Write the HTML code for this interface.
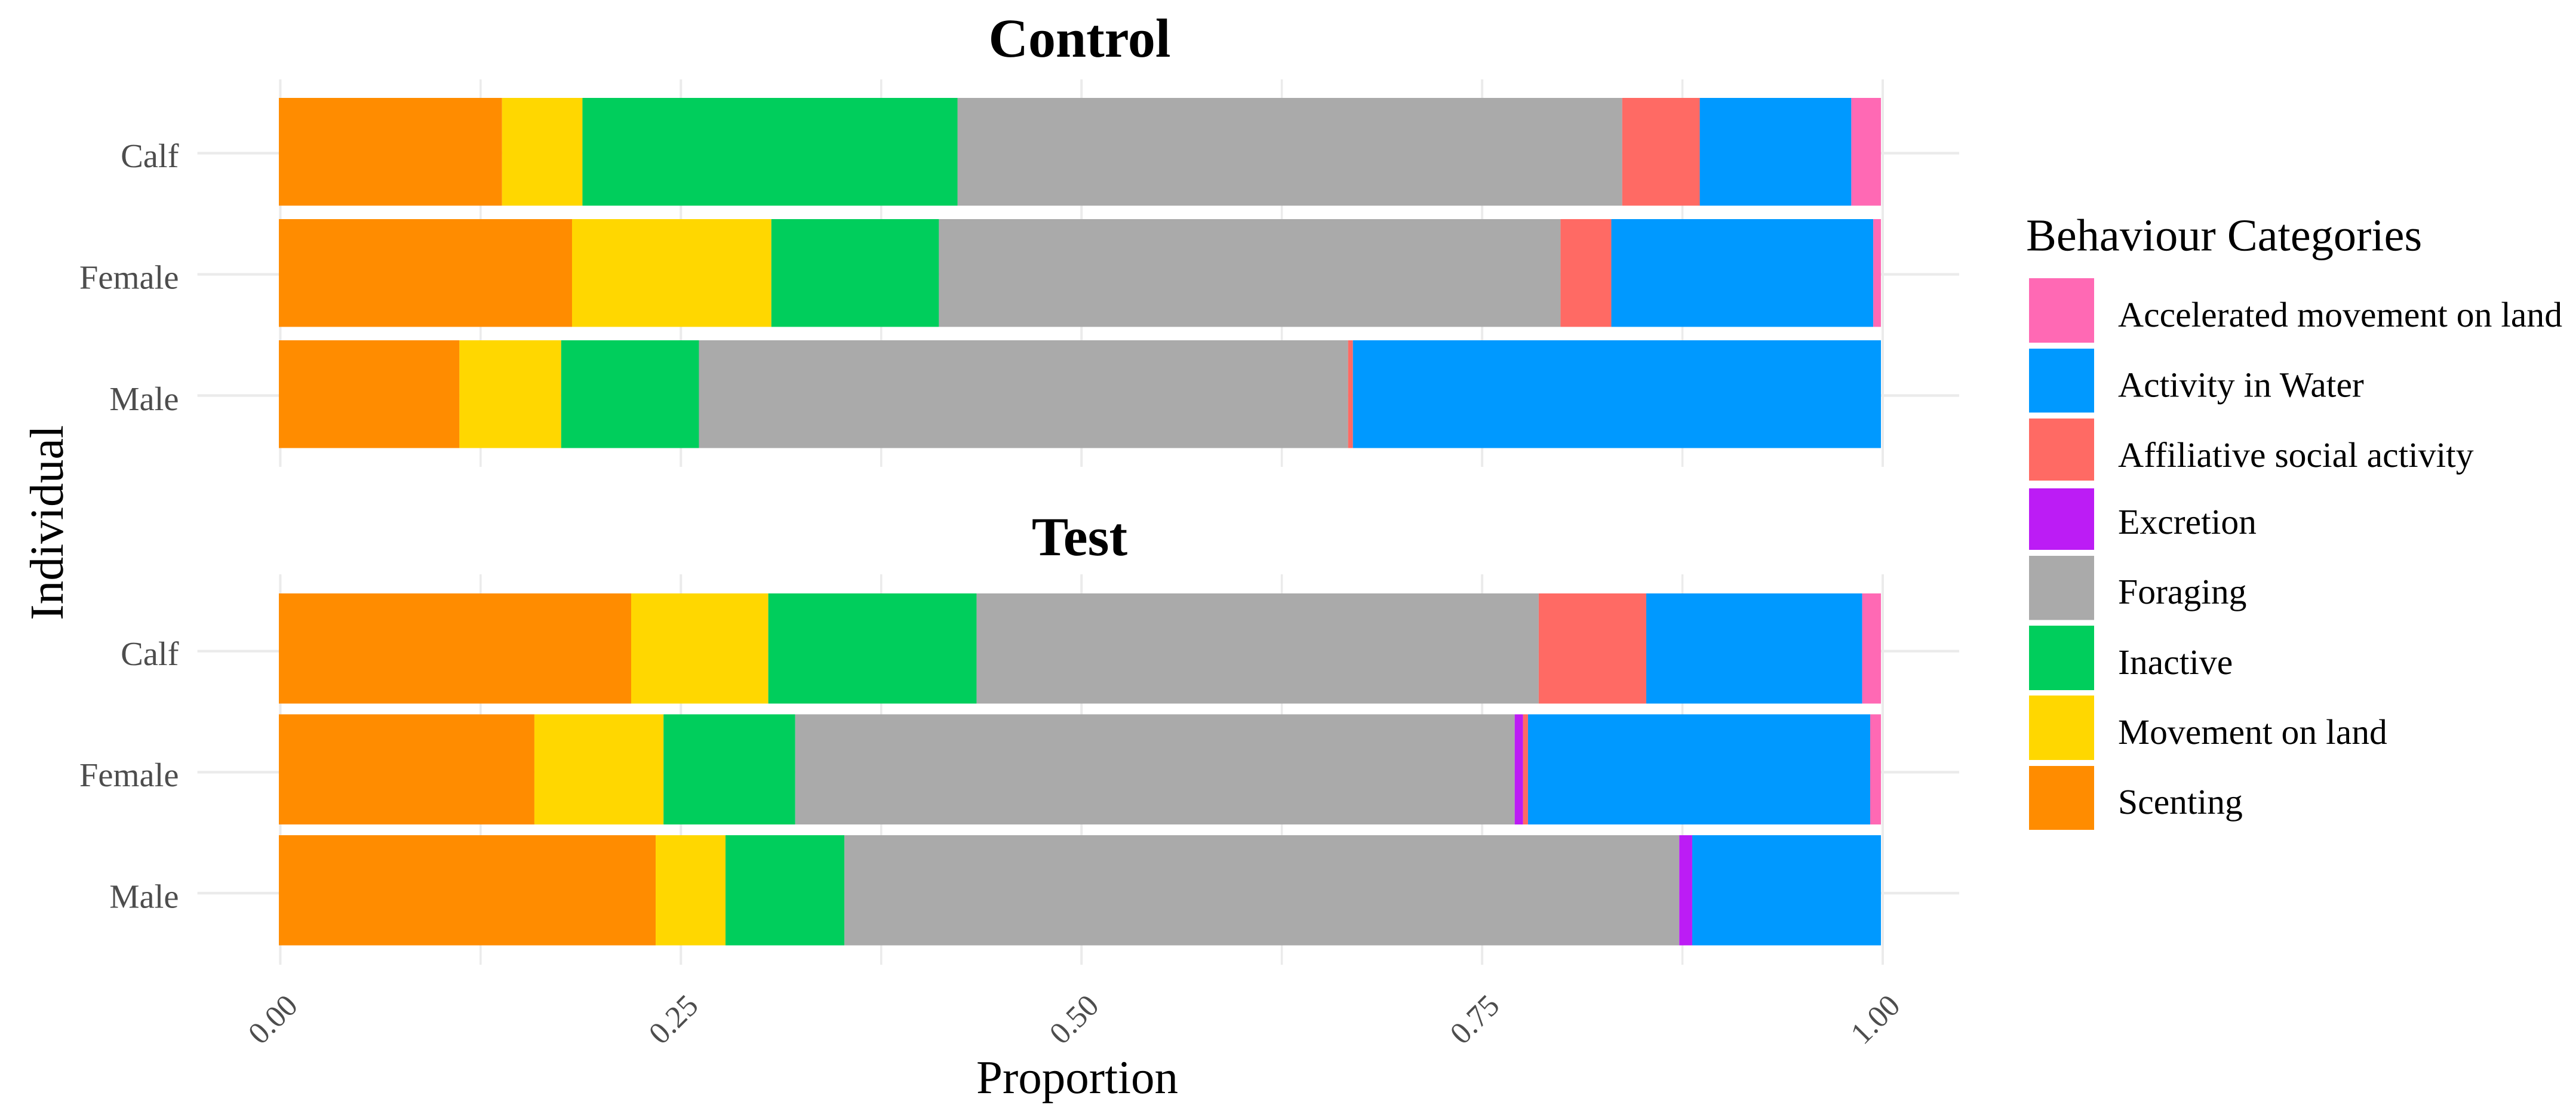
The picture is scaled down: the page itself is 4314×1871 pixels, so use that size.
<!DOCTYPE html>
<html lang="en">
<head>
<meta charset="utf-8">
<title>Behaviour proportions by individual</title>
<style>
html,body{margin:0;padding:0;background:#fff;width:4314px;height:1871px;overflow:hidden}
svg{display:block}
text{font-family:"Liberation Serif",serif;text-rendering:geometricPrecision}
</style>
</head>
<body>
<svg id="chart" xmlns="http://www.w3.org/2000/svg" width="4314" height="1871" viewBox="0 0 4314 1871">
<rect x="0" y="0" width="4314" height="1871" fill="#ffffff"/>
<text transform="translate(105,875.5) rotate(-90)" text-anchor="middle" font-size="79.5" fill="#000">Individual</text>
<text x="1804" y="1831" text-anchor="middle" font-size="79" fill="#000">Proportion</text>
<text x="3393" y="419.5" font-size="76.3" fill="#000">Behaviour Categories</text>
</svg>
<script>
const categories = ['Calf', 'Female', 'Male'];
const xTickLabels = ['0.00', '0.25', '0.50', '0.75', '1.00'];
const xTickValues = [0, 0.25, 0.5, 0.75, 1];
const xMinorValues = [0.125, 0.375, 0.625, 0.875];
const seriesNames = ['Scenting', 'Movement on land', 'Inactive', 'Foraging', 'Excretion', 'Affiliative social activity', 'Activity in Water', 'Accelerated movement on land'];
const seriesColors = ['#FF8C00', '#FFD700', '#00CE5C', '#AAAAAA', '#BC1CF5', '#FF6A64', '#0099FF', '#FF69B4'];
const legendOrder = ['Accelerated movement on land', 'Activity in Water', 'Affiliative social activity', 'Excretion', 'Foraging', 'Inactive', 'Movement on land', 'Scenting'];

const controlScenting = [0.1393, 0.1830, 0.1127];
const controlMovement = [0.0502, 0.1244, 0.0635];
const controlInactive = [0.2341, 0.1046, 0.0860];
const controlForaging = [0.4149, 0.3880, 0.4052];
const controlExcretion = [0, 0, 0];
const controlAffiliative = [0.0484, 0.0317, 0.0030];
const controlWater = [0.0946, 0.1635, 0.3296];
const controlAccelerated = [0.0185, 0.0048, 0];

const testScenting = [0.2199, 0.1595, 0.2352];
const testMovement = [0.0856, 0.0806, 0.0436];
const testInactive = [0.1300, 0.0822, 0.0742];
const testForaging = [0.3509, 0.4491, 0.5211];
const testExcretion = [0, 0.0052, 0.0081];
const testAffiliative = [0.0671, 0.0031, 0];
const testWater = [0.1348, 0.2136, 0.1178];
const testAccelerated = [0.0117, 0.0067, 0];

const NS = 'http://www.w3.org/2000/svg';
const svg = document.getElementById('chart');
const GRID = '#EBEBEB';

function xBar(v) { return 467 + v * 2683; }
function xGrid(v) { return 469.4 + v * 2683.6; }
function make(tag, attrs, parent) {
  const el = document.createElementNS(NS, tag);
  for (const k in attrs) el.setAttribute(k, attrs[k]);
  parent.appendChild(el);
  return el;
}

const panels = [
  { name: 'control', title: 'Control', titleY: 95, gridTop: 133, gridBottom: 782, barTop: 164, barStep: 203, barH: 180.5, lineY0: 256.6, lineStep: 203, labelY0: 280, labelStep: 203.5,
    series: [controlScenting, controlMovement, controlInactive, controlForaging, controlExcretion, controlAffiliative, controlWater, controlAccelerated] },
  { name: 'test', title: 'Test', titleY: 930, gridTop: 962, gridBottom: 1616, barTop: 994, barStep: 202.5, barH: 184.5, lineY0: 1090.7, lineStep: 202.7, labelY0: 1114, labelStep: 203.2,
    series: [testScenting, testMovement, testInactive, testForaging, testExcretion, testAffiliative, testWater, testAccelerated] }
];

panels.forEach(function (p) {
  const g = make('g', {}, svg);
  
  

  const title = make('text', { x: 1808, y: p.titleY, 'text-anchor': 'middle', 'font-size': 92, 'font-weight': 'bold', fill: '#000' }, g);
  
  
  title.textContent = p.title;

  xMinorValues.forEach(function (v) {
    const l = make('line', { x1: xGrid(v), x2: xGrid(v), y1: p.gridTop, y2: p.gridBottom, stroke: GRID, 'stroke-width': 3.5 }, g);
    
    
  });
  xTickValues.forEach(function (v) {
    const l = make('line', { x1: xGrid(v), x2: xGrid(v), y1: p.gridTop, y2: p.gridBottom, stroke: GRID, 'stroke-width': 4 }, g);
    
    
  });

  categories.forEach(function (c, i) {
    const y = p.lineY0 + i * p.lineStep;
    const l = make('line', { x1: 330.6, x2: 3281, y1: y, y2: y, stroke: GRID, 'stroke-width': 4.4 }, g);
    
    

    const t = make('text', { x: 299.5, y: p.labelY0 + i * p.labelStep, 'text-anchor': 'end', 'font-size': 56.6, fill: '#4D4D4D' }, g);
    
    
    t.textContent = c;

    let cum = 0;
    p.series.forEach(function (vals, s) {
      const v = vals[i];
      if (v > 0) {
        const r = make('rect', { x: xBar(cum), y: p.barTop + i * p.barStep, width: xBar(cum + v) - xBar(cum), height: p.barH, fill: seriesColors[s] }, g);
        
        
      }
      cum += v;
    });
  });
});

xTickLabels.forEach(function (lab, i) {
  const tx = xGrid(xTickValues[i]) - 12;
  const t = make('text', { transform: 'translate(' + tx + ',1708) rotate(-45)', 'text-anchor': 'middle', 'dominant-baseline': 'central', 'font-size': 52, fill: '#4D4D4D' }, svg);
  
  
  t.textContent = lab;
});

const legendTops = [466, 584, 701, 818, 931, 1048, 1165, 1283];
const legendBottoms = [574, 691, 805, 921, 1038.5, 1156, 1273, 1390];
const legendBaselines = [547, 664.5, 782, 894, 1011, 1129, 1246, 1363];
legendOrder.forEach(function (name, i) {
  const g = make('g', {}, svg);
  
  
  const color = seriesColors[seriesNames.indexOf(name)];
  const r = make('rect', { x: 3398, y: legendTops[i], width: 109, height: legendBottoms[i] - legendTops[i], fill: color }, g);
  
  
  const t = make('text', { x: 3547, y: legendBaselines[i], 'font-size': 59.7, fill: '#000' }, g);
  
  
  t.textContent = name;
});
</script>
</body>
</html>
